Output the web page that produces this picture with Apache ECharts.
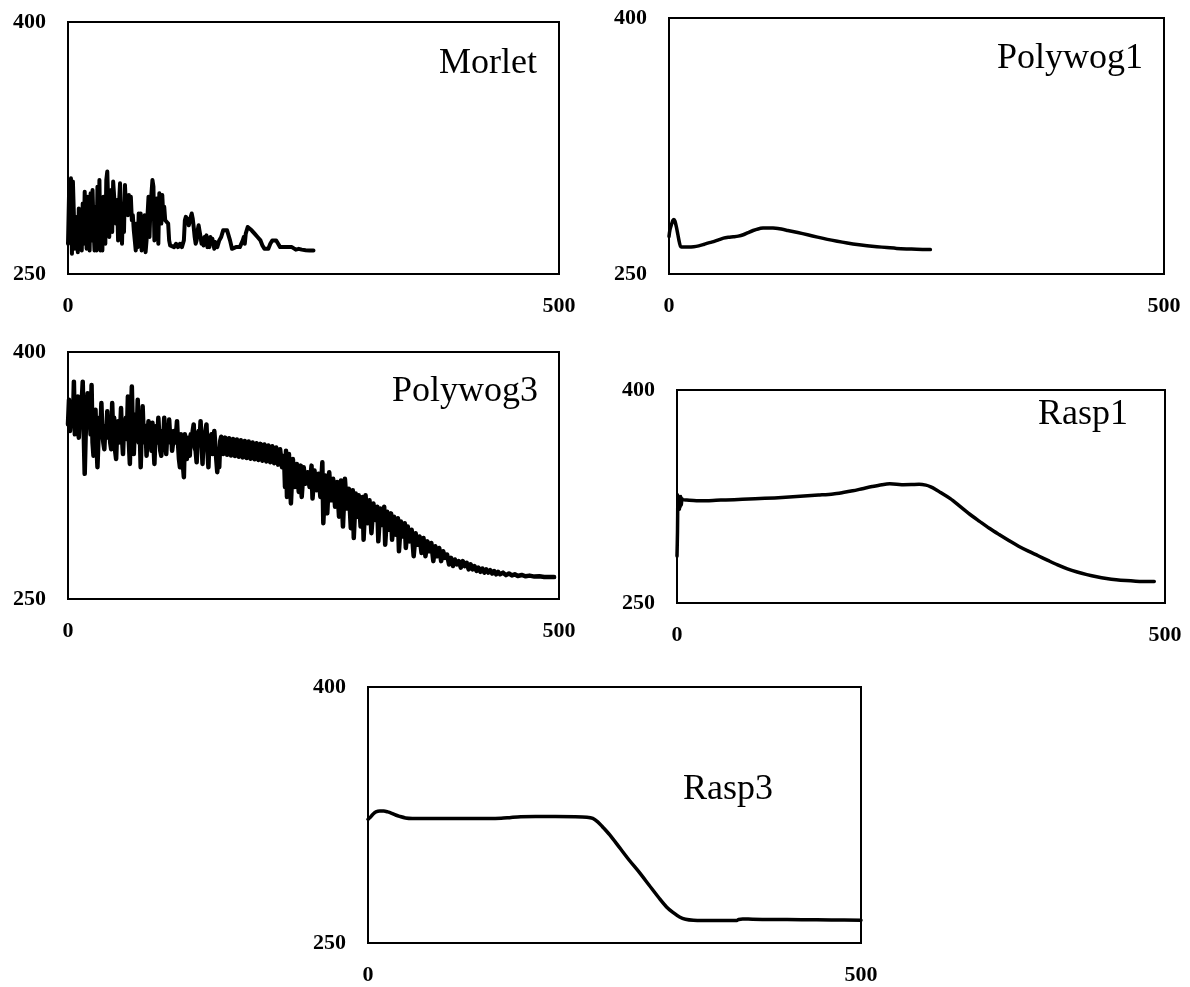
<!DOCTYPE html>
<html>
<head>
<meta charset="utf-8">
<title>Wavelet curves</title>
<script src="https://cdn.jsdelivr.net/npm/echarts@6.0.0/dist/echarts.min.js"></script>
<style>
    html, body { margin: 0; padding: 0; background: #fff; }
    #main { width: 1190px; height: 987px; }
</style>
</head>
<body>
<div id="main"></div>
<script>
    // axis ticks shared by every panel
    var xTicks = [0, 500];
    var yTicks = [250, 400];

    var names = ['Morlet', 'Polywog1', 'Polywog3', 'Rasp1', 'Rasp3'];

    var morlet = [
        [0,268],[1,296],[2,270],[3,307],[4,262],[5,305],[7,265],[8,284],[10,263],[11,289],[12,266],[13,282],
        [14,264],[15,292],[16,268],[17,299],[19,265],[20,296],[21,287],[22,264],[23,298],[24,270],[25,300],
        [26,278],[27,264],[28,290],[29,264],[30,302],[31,275],[32,306],[33,264],[34,284],[35,264],[36,296],
        [37,280],[38,268],[39,306],[40,311],[41,290],[42,272],[43,296],[44,300],[45,275],[46,305],[47,296],
        [48,288],[49,280],[50,294],[51,270],[52,292],[53,304],[54,282],[55,268],[56,292],[57,275],[58,303],
        [59,290],[60,296],[61,285],[62,297],[63,286],[64,296],[65,282],[66,285],[67,276],[68,270],[69,264],
        [70,280],[71,266],[72,286],[73,272],[74,286],[75,264],[76,282],[77,266],[78,285],[79,263],[80,270],
        [81,285],[82,296],[83,272],[84,290],[85,298],[86,306],[87,302],[88,270],[89,278],[90,295],[91,282],
        [92,268],[93,298],[94,296],[95,280],[96,297],[97,285],[98,290],[99,282],[100,283],[102,280],[103,270],
        [104,267],[106,268],[108,266],[110,268],[112,266],[114,268],[116,266],[118,270],[119,282],[120,284],
        [122,282],[123,279],[125,284],[126,286],[127,283],[128,278],[129,272],[130,268],[131,270],[132,276],
        [133,279],[134,278],[135,272],[136,268],[137,270],[138,267],[139,272],[140,270],[141,273],[142,266],
        [143,270],[144,266],[145,272],[146,268],[147,271],[148,270],[149,265],[150,269],[152,266],[154,270],
        [156,272],[158,276],[160,277],[162,276],[164,275],[165,270],[167,265],[169,264],[171,266],[173,265],
        [175,266],[177,265],[178,270],[179,272],[180,268],[181,274],[183,278],[185,277],[187,276],[190,274],
        [193,272],[196,270],[198,267],[200,265],[202,264],[204,265],[206,268],[208,270],[210,271],[212,270],
        [214,268],[216,266],[218,265],[220,266],[222,267],[224,266],[226,265],[228,266],[230,265],[232,264.5],
        [235,265],[238,264.5],[242,264.2],[246,264],[250,264]
    ];

    var polywog1 = [
        [0,272],[1,276],[2.5,279],[4,281.5],[5,282],[6,281],[7.5,277.5],[9,273],[10.5,268.5],[12,266],[15,265.8],
        [20,265.8],[25,266],[30,266.5],[35,267.3],[40,268.2],[45,269],[50,270],[55,271],[60,271.5],[65,271.8],
        [70,272.2],[75,273],[80,274.3],[85,275.5],[90,276.4],[95,276.9],[100,277],[105,276.9],[110,276.6],
        [120,275.5],[130,274.3],[140,273],[150,271.6],[160,270.3],[170,269.2],[180,268.2],[190,267.3],
        [200,266.6],[210,266],[220,265.5],[230,265],[240,264.7],[250,264.5],[264,264.3]
    ];

    var polywog3 = [
        [0,356],[1,371],[2,352],[3,360],[4,368],[5,355],[6,382],[7,350],[8,365],[9,358],[10,373],[11,348],
        [12,362],[13,355],[14,370],[15,382],[16,352],[17,326],[18,350],[19,364],[20,375],[21,356],[22,368],
        [23,350],[24,380],[25,345],[26,337],[27,352],[28,365],[29,345],[30,330],[31,348],[32,360],[33,352],
        [34,369],[35,350],[36,345],[37,341],[38,355],[39,350],[40,364],[41,348],[42,356],[43,345],[44,341],
        [45,369],[46,350],[47,360],[48,340],[49,335],[50,352],[51,358],[52,345],[53,350],[54,366],[55,348],
        [56,338],[57,355],[58,347],[59,360],[60,350],[61,373],[62,345],[63,332],[64,360],[65,379],[66,352],
        [67,338],[68,355],[69,362],[70,350],[71,371],[72,345],[73,355],[74,330],[75,352],[76,367],[77,350],
        [78,345],[79,355],[80,337],[81,350],[82,358],[83,345],[84,352],[85,340],[86,357],[87,345],[88,332],
        [89,350],[90,355],[91,345],[92,360],[93,348],[94,340],[95,337],[96,352],[97,345],[98,360],[99,345],
        [100,338],[101,350],[102,345],[103,359],[104,348],[105,352],[106,340],[107,345],[108,352],[109,345],
        [110,350],[111,358],[112,345],[113,335],[114,330],[115,350],[116,340],[117,332],[118,324],[119,350],
        [120,345],[121,335],[122,345],[123,348],[124,337],[125,350],[126,344],[127,352],[128,356],[129,342],
        [130,340],[131,333],[132,348],[133,352],[134,345],[135,358],[136,345],[137,332],[138,350],[139,345],
        [140,352],[141,356],[142,340],[143,330],[144,348],[145,345],[146,350],[147,338],[148,345],[149,352],
        [150,353],[151,335],[152,327],[153,340],[154,330],[155,346],
        [156,348.5],[158,338],[160,348],[162,337.6],[164,347.6],[166,337.2],[168,347.2],[170,336.8],[172,346.8],
        [174,336.4],[176,346.4],[178,336],[180,346],[182,335.6],[184,345.6],[186,335.2],[188,345.1],[190,334.8],
        [192,344.6],[194,334.4],[196,344.2],[198,334],[200,343.8],[202,333.5],[204,343.2],[206,333],[208,342.7],
        [210,332.4],[212,342],[214,331.6],[216,341],[218,330],
        [220,337],[221,318],[222,340],[223,312],[225,338],[227,308],[229,335],[231,318],[233,332],[235,315],
        [237,331],[238,312],[240,330],[242,320],[244,327],[246,318],[248,331],[249,311],[251,328],[253,316],
        [255,326],[257,312],[259,333],[260,296],[262,325],[264,302],[266,327],[268,310],[270,323],[272,306],
        [274,321],[276,300],[278,322],[280,294],[282,323],[284,305],[286,317],[288,293],[290,316],[291,287],
        [293,314],[295,300],[296,313],[298,294],[300,312],[301,286],[303,313],[305,296],[307,310],[309,290],
        [311,308],[313,298],[315,306],[316,285],[318,305],[320,295],[322,306],[323,283],[325,303],[327,292],
        [329,302],[330,286],[332,300],[334,289],[336,299],[337,279],[339,297],[341,288],[343,296],[344,281],
        [346,294],[348,285],[350,292],[352,276],[354,290],[356,283],[358,288],[360,278],[362,287],[364,276],
        [366,285],[368,279],[370,284],[372,273],[374,282],[376,276],[378,281],[380,273],[382,279],[384,275],
        [386,277],[388,271],[390,275],[392,270],[394,274],[396,271],[398,273],[400,269],[402,273],[404,270],
        [406,272],[408,268],[410,271],[412,268],[414,270],[416,267],[418,269],[420,266.5],[422,268.5],[424,266],
        [426,268],[428,266],[430,267.5],[432,265.5],[434,267],[436,265],[438,266.5],[440,265],[443,266],
        [446,264.5],[449,265.5],[452,264.3],[455,265],[458,264],[462,264.6],[466,263.8],[470,264.2],[475,263.6],
        [480,263.8],[485,263.4],[490,263.4],[495,263.3]
    ];

    var rasp1 = [
        [0,283],[0.5,300],[1,326],[1.5,318],[2,325],[2.5,316],[3,324],[3.5,318],[4,325],[4.5,319],[5,323.5],
        [6,322.8],[10,322.5],[20,322],[30,322],[40,322.3],[50,322.6],[67,323],[80,323.4],[100,324],[115,324.6],
        [130,325.3],[145,326],[160,326.8],[170,327.8],[180,329],[190,330.5],[200,332],[210,333.3],[218,333.9],
        [225,333.7],[232,333.3],[240,333.4],[248,333.6],[255,333],[260,331.8],[265,330],[270,327.8],[280,323.5],
        [290,318],[300,312.5],[310,307.5],[320,302.6],[330,298.2],[340,294],[350,290],[360,286.5],[370,283.3],
        [380,280],[390,276.8],[400,274],[410,271.8],[420,270],[430,268.5],[440,267.3],[450,266.4],[460,265.8],
        [470,265.4],[480,265.2],[489,265.1]
    ];

    var rasp3 = [
        [0,322.5],[2,323.5],[5,325.5],[8,326.8],[12,327.3],[16,327.3],[20,326.8],[24,326],[28,325],[32,324.2],
        [38,323.3],[45,323],[60,323],[80,322.9],[100,323],[120,323],[135,323.1],[145,323.6],[155,324],
        [170,324.1],[190,324.1],[210,324],[222,323.7],[228,323],[233,321],[238,318],[245,313.5],[255,306],
        [265,298.5],[275,291.5],[285,284],[295,276.5],[303,271],[310,267.6],[316,265.2],[322,263.9],[330,263.3],
        [340,263.2],[360,263.2],[374,263.2],[376,263.8],[380,264.1],[390,263.9],[410,263.8],[440,263.6],
        [470,263.5],[500,263.3]
    ];

    var seriesData = [morlet, polywog1, polywog3, rasp1, rasp3];

    // plot boxes and label positions in page pixels
    var boxes = [
        {left: 68, top: 22, width: 491, height: 252},
        {left: 669, top: 18, width: 495, height: 256},
        {left: 68, top: 352, width: 491, height: 247},
        {left: 677, top: 390, width: 488, height: 213},
        {left: 368, top: 687, width: 493, height: 256}
    ];
    var titlePos = [
        {left: 439, top: 46},
        {left: 997, top: 41},
        {left: 392, top: 374},
        {left: 1038, top: 397},
        {left: 683, top: 772}
    ];
    var smoothOn = [false, 0.3, false, 0.3, 0.3];
    var widths = [4, 3.5, 4.5, 3.5, 3.5];

    var labelFont = {
        fontFamily: 'Liberation Serif',
        fontWeight: 'bold',
        fontSize: 22,
        color: '#000'
    };

    var grid = [], xAxis = [], yAxis = [], series = [], title = [];
    for (var i = 0; i < names.length; i++) {
        grid.push({
            left: boxes[i].left, top: boxes[i].top,
            width: boxes[i].width, height: boxes[i].height,
            show: true, borderColor: '#000', borderWidth: 2,
            backgroundColor: '#fff', containLabel: false
        });
        xAxis.push({
            type: 'value', gridIndex: i,
            min: xTicks[0], max: xTicks[1], interval: xTicks[1] - xTicks[0],
            axisLine: {show: false}, axisTick: {show: false}, splitLine: {show: false},
            axisLabel: Object.assign({margin: 21}, labelFont)
        });
        yAxis.push({
            type: 'value', gridIndex: i,
            min: yTicks[0], max: yTicks[1], interval: 50,
            axisLine: {show: false}, axisTick: {show: false}, splitLine: {show: false},
            axisLabel: Object.assign({
                margin: 22,
                formatter: function (v) {
                    return yTicks.indexOf(v) >= 0 ? String(v) : '';
                }
            }, labelFont)
        });
        series.push({
            name: names[i], type: 'line',
            xAxisIndex: i, yAxisIndex: i,
            data: seriesData[i],
            showSymbol: false, smooth: smoothOn[i],
            lineStyle: {color: '#000', width: widths[i], join: 'round', cap: 'round'},
            animation: false
        });
        title.push({
            text: names[i],
            left: titlePos[i].left, top: titlePos[i].top, padding: 0,
            textStyle: {
                fontFamily: 'Liberation Serif',
                fontWeight: 'normal',
                fontSize: 36,
                color: '#000'
            }
        });
    }

    var myChart = echarts.init(document.getElementById('main'));
    var option = {
        backgroundColor: '#fff',
        animation: false,
        title: title,
        grid: grid,
        xAxis: xAxis,
        yAxis: yAxis,
        series: series
    };
    myChart.setOption(option);
</script>
</body>
</html>
